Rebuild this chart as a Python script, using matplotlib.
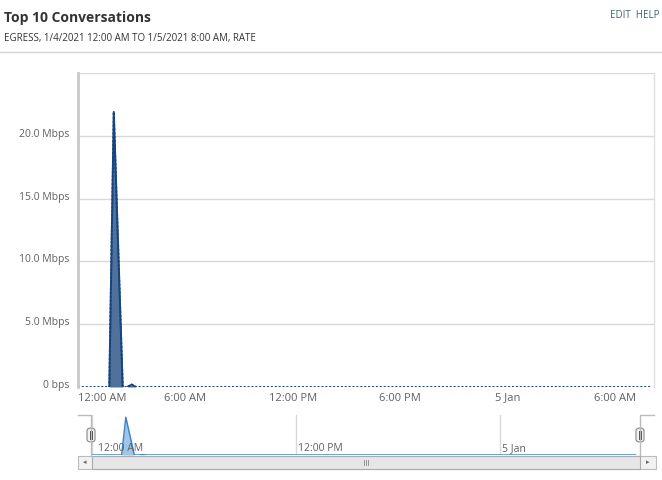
import matplotlib
matplotlib.use('Agg')
import matplotlib.pyplot as plt
import matplotlib.transforms as mtransforms
from matplotlib.patches import FancyBboxPatch, Rectangle
from matplotlib.lines import Line2D

plt.rcParams['font.family'] = ['Open Sans', 'DejaVu Sans']

# data: hours since 1/4/2021 12:00 AM, rate in Mbps
hours = [0, 1.75, 2.0, 2.5, 2.75, 3.0, 3.25, 32]
rate_mbps = [0, 0, 21.9, 0, 0, 0.2, 0, 0]

y_ticks = [0, 5, 10, 15, 20, 25]
y_labels = ['0 bps', '5.0 Mbps', '10.0 Mbps', '15.0 Mbps', '20.0 Mbps', '']
x_ticks = [0, 6, 12, 18, 24, 30]
x_labels = ['12:00 AM', '6:00 AM', '12:00 PM', '6:00 PM', '5 Jan', '6:00 AM']
nav_ticks = [0, 12, 24]
nav_labels = ['12:00 AM', '12:00 PM', '5 Jan']

W, H = 662, 480
fig = plt.figure(figsize=(W / 100, H / 100), dpi=100)


def box(x0, y0, x1, y1):
    # pixel box (top-left origin) -> figure fraction rect
    return [x0 / W, 1 - y1 / H, (x1 - x0) / W, (y1 - y0) / H]


label_col = '#606060'
grid_col = '#d8d8d8'
line_col = '#14457f'
fill_col = '#4f719b'

# header
fig.text(4 / W, 1 - 18 / H, 'Top 10 Conversations', fontsize=10, fontweight='bold',
         color='#333333', va='center', ha='left')
fig.text(4 / W, 1 - 38 / H, 'EGRESS, 1/4/2021 12:00 AM TO 1/5/2021 8:00 AM, RATE',
         fontsize=7, color='#333333', va='center', ha='left')
fig.text(660 / W, 1 - 16 / H, 'EDIT  HELP', fontsize=7, color='#3d6478',
         va='center', ha='right')
fig.add_artist(Line2D([0, 1], [1 - 52 / H, 1 - 52 / H], color='#d4d4d4', lw=1))

# main chart
ax = fig.add_axes(box(78, 73, 654, 387))
ax.fill_between(hours, rate_mbps, color=fill_col, lw=0)
ax.plot(hours, rate_mbps, color=line_col, lw=1.4, linestyle=(0, (1.0, 1.0)))
ax.plot(hours[1:4], rate_mbps[1:4], color=line_col, lw=1.4)
ax.plot(hours[4:7], rate_mbps[4:7], color=line_col, lw=1.2)
ax.set_xlim(0, 32.2)
ax.set_ylim(0, 25)
ax.set_yticks(y_ticks)
ax.set_yticklabels(y_labels)
ax.set_xticks(x_ticks)
ax.set_xticklabels(x_labels)
ax.tick_params(length=0, labelcolor=label_col)
ax.tick_params(axis='y', pad=6, labelsize=7.5)
ax.tick_params(axis='x', pad=4, labelsize=8)
ax.grid(axis='y', color=grid_col, lw=1)
ax.set_axisbelow(True)
for s in ['top', 'bottom']:
    ax.spines[s].set_visible(False)
ax.spines['left'].set_color('#c8c8c8')
ax.spines['left'].set_linewidth(2)
ax.spines['right'].set_color('#e0e0e0')
ax.spines['right'].set_linewidth(1)
offset = mtransforms.ScaledTranslation(0, 3 / 100, fig.dpi_scale_trans)
for lab in ax.get_yticklabels():
    lab.set_transform(lab.get_transform() + offset)
first = ax.get_xticklabels()[0]
first.set_horizontalalignment('left')

# navigator
nav = fig.add_axes(box(91, 415, 640, 455))
nav.fill_between(hours, rate_mbps, color='#8ebbe6', alpha=0.85, lw=0)
nav.plot(hours, rate_mbps, color='#3b7fc4', lw=1)
nav.set_xlim(-0.05, 32.25)
nav.set_ylim(0, 23.2)
nav.set_xticks(nav_ticks)
nav.set_xticklabels([])
nav.set_yticks([])
nav.tick_params(length=0)
nav.grid(axis='x', color='#d8d8d8', lw=1)
nav.set_axisbelow(True)
for s in nav.spines.values():
    s.set_visible(False)
nav.patch.set_alpha(0)
for t, lab in zip([0.2, 12, 24], nav_labels):
    nav.text(t + 0.15, 0.17, lab, transform=nav.get_xaxis_transform(),
             fontsize=7.5, color=label_col, ha='left', va='center')

# navigator outline and handles
outline = dict(color='#bbbbbb', lw=1)
fig.add_artist(Line2D([78 / W, 91 / W, 91 / W], [1 - 415 / H, 1 - 415 / H, 1 - 455 / H], **outline))
fig.add_artist(Line2D([654 / W, 640 / W, 640 / W], [1 - 415 / H, 1 - 415 / H, 1 - 455 / H], **outline))
for hx in [91, 640]:
    r = box(hx - 4, 428, hx + 4, 442)
    fig.add_artist(FancyBboxPatch((r[0], r[1]), r[2], r[3], boxstyle='round,pad=0,rounding_size=0.006',
                                  transform=fig.transFigure, facecolor='#f4f4f4',
                                  edgecolor='#888888', lw=0.8))
    for dx in [-1, 1]:
        fig.add_artist(Line2D([(hx + dx) / W] * 2, [1 - 431 / H, 1 - 439 / H], color='#555555', lw=0.7))

# scrollbar
r = box(78, 456, 656, 469)
fig.add_artist(Rectangle((r[0], r[1]), r[2], r[3], transform=fig.transFigure,
                         facecolor='#f2f2f2', edgecolor='#bbbbbb', lw=0.8))
r = box(92, 456, 640, 469)
fig.add_artist(Rectangle((r[0], r[1]), r[2], r[3], transform=fig.transFigure,
                         facecolor='#e6e6e6', edgecolor='#aaaaaa', lw=0.8))
for gx in [364, 366, 368]:
    fig.add_artist(Line2D([gx / W] * 2, [1 - 460 / H, 1 - 465 / H], color='#888888', lw=0.6))
fig.text(85 / W, 1 - 462.5 / H, '\u25c2', fontsize=5, color='#666666', ha='center', va='center')
fig.text(648 / W, 1 - 462.5 / H, '\u25b8', fontsize=5, color='#666666', ha='center', va='center')

fig.savefig('out.png', dpi=100)
